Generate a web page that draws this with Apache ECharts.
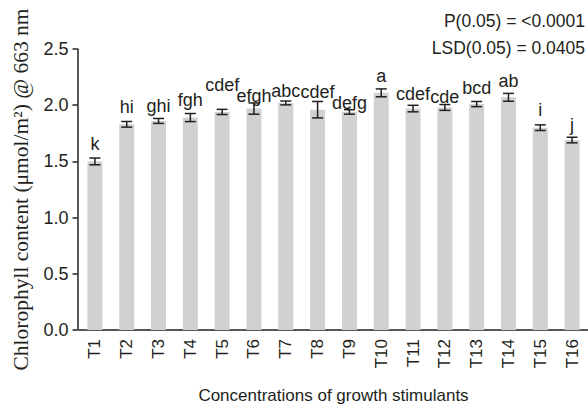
<!DOCTYPE html>
<html><head><meta charset="utf-8">
<script src="https://cdn.jsdelivr.net/npm/echarts@6/dist/echarts.min.js"></script>
<style>html,body{margin:0;padding:0;background:#fff}#c{width:588px;height:409px}</style>
</head><body><div id="c"></div>
<script>
const categories = ['T1','T2','T3','T4','T5','T6','T7','T8','T9','T10','T11','T12','T13','T14','T15','T16'];
const values = [1.50,1.83,1.86,1.89,1.94,1.97,2.02,1.96,1.94,2.11,1.97,1.98,2.01,2.07,1.80,1.69];
const errors = [0.030,0.025,0.022,0.036,0.023,0.050,0.017,0.073,0.020,0.035,0.029,0.026,0.023,0.035,0.025,0.025];
const letters = ['k','hi','ghi','fgh','cdef','efgh','abc','cdef','defg','a','cdef','cde','bcd','ab','i','j'];
const yTicks = [0, 0.5, 1.0, 1.5, 2.0, 2.5];
const labelLift = [2,2,0,2,12,-5,-2,-3,-5,1,-1,-4,1,0,3,0];

const chart = echarts.init(document.getElementById('c'), null, {renderer:'svg'});
const sans = '"Liberation Sans", Arial, sans-serif';
const serif = '"Liberation Serif", "Times New Roman", serif';
const ink = '#231f20';

chart.setOption({
  animation:false,
  grid:{left:79, top:49, width:510, height:288},
  xAxis:{
    type:'category', data:categories,
    axisTick:{show:false},
    axisLine:{lineStyle:{color:ink,width:1.5}},
    axisLabel:{rotate:90, fontSize:17, fontFamily:sans, color:ink, margin:9},
    name:'Concentrations of growth stimulants', nameLocation:'middle', nameGap:57,
    nameTextStyle:{fontSize:17, fontFamily:sans, color:ink}
  },
  yAxis:{
    type:'value', min:yTicks[0], max:yTicks[yTicks.length-1], interval:0.5,
    offset:1.5,
    splitLine:{show:false},
    axisLine:{show:true, lineStyle:{color:ink,width:1.5}},
    axisTick:{show:true, length:5, lineStyle:{color:ink,width:1.5}},
    axisLabel:{fontSize:18, fontFamily:sans, color:ink, margin:9, formatter:v=>v.toFixed(1)},
    name:'Chlorophyll content (μmol/m²) @ 663 nm', nameLocation:'middle', nameGap:46,
    nameTextStyle:{fontSize:21.5, fontFamily:serif, color:ink}
  },
  graphic:[
    {type:'text', right:3, top:12, style:{text:'P(0.05) = <0.0001', font:'17.5px '+sans, fill:ink}},
    {type:'text', right:3, top:39, style:{text:'LSD(0.05) = 0.0405', font:'17.5px '+sans, fill:ink}}
  ],
  series:[
    {type:'bar', data:values, barWidth:15, itemStyle:{color:'#d0d1d3'}, silent:true, z:2},
    {type:'custom', z:5, data:values.map((v,i)=>[i,v,errors[i]]),
     renderItem:(params, api)=>{
       const i = api.value(0), v = api.value(1), e = api.value(2);
       const top = api.coord([i, v+e]);
       const bot = api.coord([i, v-e]);
       const x = top[0], hw = 5.5;
       const st = {stroke:ink, lineWidth:1.5};
       return {type:'group', children:[
         {type:'line', shape:{x1:x,y1:top[1],x2:x,y2:bot[1]}, style:st},
         {type:'line', shape:{x1:x-hw,y1:top[1],x2:x+hw,y2:top[1]}, style:st},
         {type:'line', shape:{x1:x-hw,y1:bot[1],x2:x+hw,y2:bot[1]}, style:st},
         {type:'text', x:x, y:top[1]-3-labelLift[i], style:{text:letters[i], font:'18px '+sans, fill:ink, align:'center', verticalAlign:'bottom'}}
       ]};
     }}
  ]
});
</script></body></html>
